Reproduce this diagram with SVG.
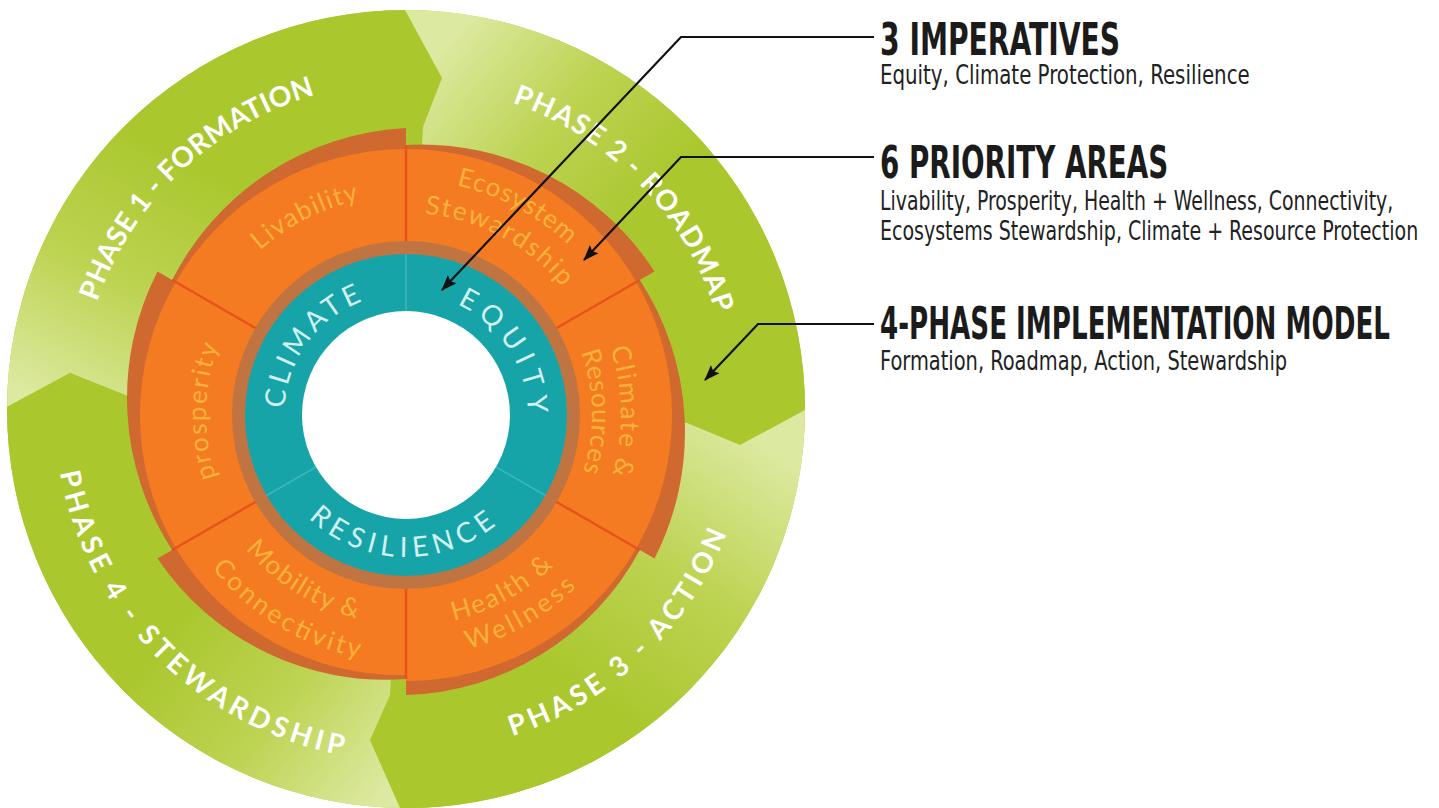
<svg xmlns="http://www.w3.org/2000/svg" width="1439" height="808" viewBox="0 0 1439 808">
<defs>
<style>
.ph{font-family:Lato,"Open Sans","Liberation Sans",sans-serif;font-weight:700;font-size:28px;fill:#ffffff;}
.or{font-family:Lato,"Open Sans","Liberation Sans",sans-serif;font-size:26px;fill:#f8b23a;}
.tl{font-family:Lato,"Open Sans","Liberation Sans",sans-serif;font-size:28px;fill:#d3f0f0;}
.hd{font-family:"Liberation Sans Narrow","DejaVu Sans Condensed","Liberation Sans",sans-serif;font-weight:700;font-size:44px;fill:#1b1b1b;}
.sb{font-family:"Liberation Sans Narrow","DejaVu Sans Condensed","Liberation Sans",sans-serif;font-size:27px;fill:#222222;}
.seg{fill:#f47b21;}
.rim{fill:#d0692f;}
.div{stroke:#e9521d;stroke-width:2.5;fill:none;}
.tdiv{stroke:#3cb6b9;stroke-width:1.5;fill:none;}
.conn{fill:none;stroke:#111111;stroke-width:2.2;}
</style>
<linearGradient id="g1" gradientUnits="userSpaceOnUse" x1="40" y1="400" x2="170" y2="150"><stop offset="0" stop-color="#dce9a0"/><stop offset="0.5" stop-color="#bdd352"/><stop offset="1" stop-color="#aac72e"/></linearGradient>
<linearGradient id="g2" gradientUnits="userSpaceOnUse" x1="450" y1="40" x2="650" y2="210"><stop offset="0" stop-color="#dce9a0"/><stop offset="0.5" stop-color="#bdd352"/><stop offset="1" stop-color="#aac72e"/></linearGradient>
<linearGradient id="g3" gradientUnits="userSpaceOnUse" x1="785" y1="460" x2="610" y2="710"><stop offset="0" stop-color="#dce9a0"/><stop offset="0.5" stop-color="#bdd352"/><stop offset="1" stop-color="#aac72e"/></linearGradient>
<linearGradient id="g4" gradientUnits="userSpaceOnUse" x1="380" y1="795" x2="170" y2="630"><stop offset="0" stop-color="#dce9a0"/><stop offset="0.5" stop-color="#bdd352"/><stop offset="1" stop-color="#aac72e"/></linearGradient>
<path id="p1" d="M 88.0 485.3 A 327 327 0 0 1 498.9 95.5"/>
<path id="p2" d="M 327.6 94.6 A 324 324 0 0 1 717.5 498.3"/>
<path id="p3" d="M 307.7 738.7 A 344 344 0 0 0 740.6 329.3"/>
<path id="p4" d="M 66.0 317.9 A 352 352 0 0 0 497.1 749.0"/>
<path id="tc" d="M 294.6 464.6 A 122 122 0 0 1 418.8 293.7"/>
<path id="te" d="M 399.6 293.2 A 122 122 0 0 1 514.7 470.4"/>
<path id="tr" d="M 280.6 481.7 A 142 142 0 0 0 526.4 490.2"/>
<path id="oLiv" d="M 186.3 403.5 A 220 220 0 0 1 525.8 230.5"/>
<path id="oEco" d="M 281.5 215.7 A 235 235 0 0 1 640.9 406.8"/>
<path id="oSte" d="M 299.0 243.7 A 202 202 0 0 1 607.9 408.0"/>
<path id="oCli" d="M 510.2 227.0 A 215 215 0 0 1 516.7 599.3"/>
<path id="oRes" d="M 496.2 252.3 A 186 186 0 0 1 501.8 574.4"/>
<path id="oHea" d="M 296.4 595.3 A 211 211 0 0 0 616.9 419.8"/>
<path id="oWel" d="M 284.3 624.2 A 242 242 0 0 0 648.0 415.8"/>
<path id="oMob" d="M 197.1 408.1 A 209 209 0 0 0 504.4 599.4"/>
<path id="oCon" d="M 159.1 409.0 A 247 247 0 0 0 524.2 631.9"/>
<path id="oPro" d="M 303.0 586.4 A 200 200 0 0 1 309.0 240.1"/>
<marker id="ah" viewBox="0 0 16 12" refX="15" refY="6" markerWidth="16" markerHeight="12" markerUnits="userSpaceOnUse" orient="auto"><path d="M0,0 L16,6 L0,12 L3,6 Z" fill="#111111"/></marker>
</defs>
<rect width="1439" height="808" fill="#ffffff"/>

<g id="phase-ring">
<circle cx="406" cy="409" r="399" fill="#acc72f"/>
<g id="phase1"><path d="M 7 407 A 399 399 0 0 1 405 10 L 442 78 L 423 127 L 406 415 L 130 397 L 70 373 Z" fill="url(#g1)"/></g>
<g id="phase2"><path d="M 405 10 A 399 399 0 0 1 805 410 L 740 445 L 687 423 L 406 415 L 423 127 L 442 78 Z" fill="url(#g2)"/></g>
<g id="phase3"><path d="M 805 410 A 399 399 0 0 1 400 808 L 370 740 L 390 695 L 406 415 L 687 423 L 740 445 Z" fill="url(#g3)"/></g>
<g id="phase4"><path d="M 400 808 A 399 399 0 0 1 7 407 L 70 373 L 130 397 L 406 415 L 390 695 L 370 740 Z" fill="url(#g4)"/></g>
</g>

<g id="priority-ring">
<g id="seg-livability">
<path class="rim" d="M 256.2 328.5 L 172.2 280 A 278 278 0 0 1 406 128 L 406 242 A 173 173 0 0 0 256.2 328.5 Z"/>
<path class="seg" d="M 256.2 328.5 L 175.6 282 A 266 266 0 0 1 406 149 L 406 242 A 173 173 0 0 0 256.2 328.5 Z"/>
</g>
<g id="seg-ecosystem">
<path class="rim" d="M 406 242 L 406 145 A 278 278 0 0 1 654.5 271.5 L 555.8 328.5 A 173 173 0 0 0 406 242 Z"/>
<path class="seg" d="M 406 242 L 406 149 A 266 266 0 0 1 636.4 282 L 555.8 328.5 A 173 173 0 0 0 406 242 Z"/>
</g>
<g id="seg-climate">
<path class="rim" d="M 555.8 328.5 L 639.8 280 A 278 278 0 0 1 654.5 558.5 L 555.8 501.5 A 173 173 0 0 0 555.8 328.5 Z"/>
<path class="seg" d="M 555.8 328.5 L 636.4 282 A 266 266 0 0 1 636.4 548 L 555.8 501.5 A 173 173 0 0 0 555.8 328.5 Z"/>
</g>
<g id="seg-health">
<path class="rim" d="M 555.8 501.5 L 639.8 550 A 275 275 0 0 1 406 695 L 406 588 A 173 173 0 0 0 555.8 501.5 Z"/>
<path class="seg" d="M 555.8 501.5 L 636.4 548 A 266 266 0 0 1 406 681 L 406 588 A 173 173 0 0 0 555.8 501.5 Z"/>
</g>
<g id="seg-mobility">
<path class="rim" d="M 406 588 L 406 679 A 275 275 0 0 1 157.5 558.5 L 256.2 501.5 A 173 173 0 0 0 406 588 Z"/>
<path class="seg" d="M 406 588 L 406 675 A 263 263 0 0 1 175.6 548 L 256.2 501.5 A 173 173 0 0 0 406 588 Z"/>
</g>
<g id="seg-prosperity">
<path class="rim" d="M 256.2 501.5 L 172.2 550 A 278 278 0 0 1 157.5 271.5 L 256.2 328.5 A 173 173 0 0 0 256.2 501.5 Z"/>
<path class="seg" d="M 256.2 501.5 L 175.6 548 A 266 266 0 0 1 175.6 282 L 256.2 328.5 A 173 173 0 0 0 256.2 501.5 Z"/>
</g>
<path class="div" d="M 406 242 L 406 145 M 555.8 328.5 L 639.8 280 M 555.8 501.5 L 639.8 550 M 406 588 L 406 679 M 256.2 501.5 L 172.2 550 M 256.2 328.5 L 172.2 280"/>
</g>

<g id="imperatives-ring">
<circle cx="406" cy="415" r="174" fill="#c07441"/>
<circle cx="406" cy="415" r="161" fill="#17a4a9"/>
<path class="tdiv" d="M 406 311 L 406 254 M 496.1 467 L 545.4 495.5 M 315.9 467 L 266.6 495.5"/>
<circle cx="406" cy="415" r="104" fill="#ffffff"/>
</g>

<g id="labels">
<text class="ph"><textPath href="#p1" startOffset="50%" text-anchor="middle" textLength="312" lengthAdjust="spacing">PHASE 1 - FORMATION</textPath></text>
<text class="ph"><textPath href="#p2" startOffset="50%" text-anchor="middle" textLength="304" lengthAdjust="spacing">PHASE 2 - ROADMAP</textPath></text>
<text class="ph"><textPath href="#p3" startOffset="50%" text-anchor="middle" textLength="305" lengthAdjust="spacing">PHASE 3 - ACTION</textPath></text>
<text class="ph"><textPath href="#p4" startOffset="50%" text-anchor="middle" textLength="425" lengthAdjust="spacing">PHASE 4 - STEWARDSHIP</textPath></text>

<text class="or"><textPath href="#oLiv" startOffset="50%" text-anchor="middle" textLength="112" lengthAdjust="spacing">Livability</textPath></text>
<text class="or"><textPath href="#oEco" startOffset="50%" text-anchor="middle" textLength="128" lengthAdjust="spacing">Ecosystem</textPath></text>
<text class="or"><textPath href="#oSte" startOffset="50%" text-anchor="middle" textLength="160" lengthAdjust="spacing">Stewardship</textPath></text>
<text class="or"><textPath href="#oCli" startOffset="50%" text-anchor="middle" textLength="128" lengthAdjust="spacing">Climate &amp;</textPath></text>
<text class="or"><textPath href="#oRes" startOffset="50%" text-anchor="middle" textLength="122" lengthAdjust="spacing">Resources</textPath></text>
<text class="or"><textPath href="#oHea" startOffset="50%" text-anchor="middle" textLength="115" lengthAdjust="spacing">Health &amp;</textPath></text>
<text class="or"><textPath href="#oWel" startOffset="50%" text-anchor="middle" textLength="126" lengthAdjust="spacing">Wellness</textPath></text>
<text class="or"><textPath href="#oMob" startOffset="50%" text-anchor="middle" textLength="133" lengthAdjust="spacing">Mobility &amp;</textPath></text>
<text class="or"><textPath href="#oCon" startOffset="50%" text-anchor="middle" textLength="176" lengthAdjust="spacing">Connectivity</textPath></text>
<text class="or"><textPath href="#oPro" startOffset="50%" text-anchor="middle" textLength="134" lengthAdjust="spacing">prosperity</textPath></text>

<text class="tl"><textPath href="#tc" startOffset="50%" text-anchor="middle" textLength="140" lengthAdjust="spacing">CLIMATE</textPath></text>
<text class="tl"><textPath href="#te" startOffset="50%" text-anchor="middle" textLength="137" lengthAdjust="spacing">EQUITY</textPath></text>
<text class="tl"><textPath href="#tr" startOffset="50%" text-anchor="middle" textLength="205" lengthAdjust="spacing">RESILIENCE</textPath></text>
</g>

<g id="legend-imperatives">
<g transform="translate(880,0) scale(0.68,1)"><text class="hd" x="0" y="55" textLength="353" lengthAdjust="spacingAndGlyphs">3 IMPERATIVES</text></g>
<g transform="translate(880,0) scale(0.78,1)"><text class="sb" x="0" y="84" textLength="474" lengthAdjust="spacingAndGlyphs">Equity, Climate Protection, Resilience</text></g>
</g>
<g id="legend-priority">
<g transform="translate(880,0) scale(0.68,1)"><text class="hd" x="0" y="178" textLength="424" lengthAdjust="spacingAndGlyphs">6 PRIORITY AREAS</text></g>
<g transform="translate(880,0) scale(0.78,1)"><text class="sb" x="0" y="210" textLength="658" lengthAdjust="spacingAndGlyphs">Livability, Prosperity, Health + Wellness, Connectivity,</text>
<text class="sb" x="0" y="240" textLength="690" lengthAdjust="spacingAndGlyphs">Ecosystems Stewardship, Climate + Resource Protection</text></g>
</g>
<g id="legend-phases">
<g transform="translate(880,0) scale(0.68,1)"><text class="hd" x="0" y="339" textLength="750" lengthAdjust="spacingAndGlyphs">4-PHASE IMPLEMENTATION MODEL</text></g>
<g transform="translate(880,0) scale(0.78,1)"><text class="sb" x="0" y="370" textLength="522" lengthAdjust="spacingAndGlyphs">Formation, Roadmap, Action, Stewardship</text></g>
</g>

<g id="connectors">
<path class="conn" d="M 874 37 H 681 L 442 290" marker-end="url(#ah)"/>
<path class="conn" d="M 874 157 H 681 L 584 260" marker-end="url(#ah)"/>
<path class="conn" d="M 874 324 H 758 L 705 380" marker-end="url(#ah)"/>
</g>
</svg>
